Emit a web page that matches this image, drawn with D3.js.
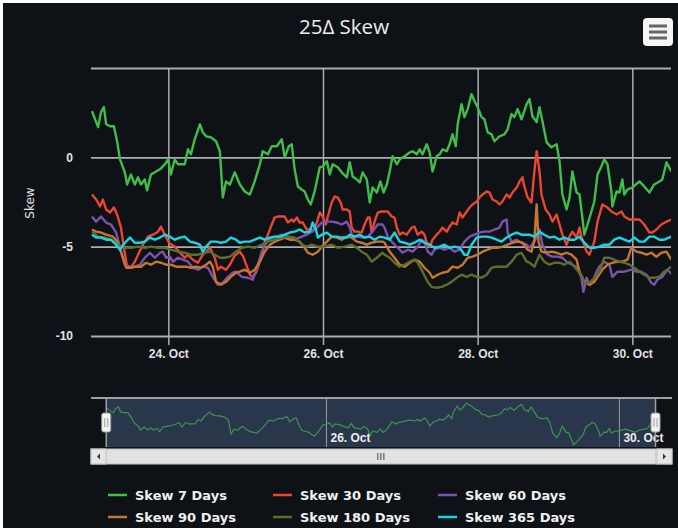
<!DOCTYPE html>
<html lang="en">

<head>
  <title>25Δ Skew</title>
  <meta charset="UTF-8">
  <style>
    body {
      margin: 0;
      background: #ffffff;
    }

    svg {
      display: block;
      font-family: "DejaVu Sans", sans-serif;
    }
  </style>
</head>

<body>
  <div id="container"></div>
  <script src="https://d3js.org/d3.v7.min.js"></script>
  <script>
    // hours after 23 Oct 00:00, skew value
    const startDate = new Date(2022, 9, 23);
    const endHour = 180;

    const sk7 = [[0.3,2.58],[2.2,1.69],[3.1,2.53],[4.0,2.81],[4.7,1.85],[5.9,1.74],[7.1,1.74],[8.1,0.9],[9.0,-0.11],[10.5,-0.84],[11.2,-1.52],[12.4,-0.96],[13.6,-1.52],[14.6,-1.12],[15.5,-1.52],[16.7,-1.24],[17.4,-1.85],[18.6,-0.96],[19.8,-0.84],[21.4,-0.67],[22.9,-0.39],[23.9,-0.11],[24.8,-0.96],[26.0,-0.11],[27.0,-0.39],[29.1,-0.39],[30.1,0.45],[31.0,0.17],[32.2,1.01],[33.8,1.85],[34.7,1.4],[35.7,1.18],[37.2,1.12],[38.8,0.9],[40.0,0.34],[40.9,-2.25],[41.9,-1.35],[43.1,-1.52],[44.6,-0.84],[46.2,-1.52],[47.7,-1.91],[49.3,-2.08],[50.8,-1.35],[52.4,-0.39],[53.3,0.34],[54.9,0.17],[56.1,0.62],[57.7,0.62],[59.2,1.01],[60.1,0],[61.4,0.62],[62.3,0.73],[63.2,-0.67],[64.2,-1.63],[65.4,-1.8],[66.3,-1.91],[67.3,-2.36],[68.2,-2.64],[69.4,-1.91],[71.0,-0.56],[71.9,-0.51],[73.2,-0.22],[74.1,-0.96],[75.0,-0.39],[76.6,-0.56],[77.8,-0.84],[79.4,-1.12],[80.3,-0.28],[81.2,-1.07],[82.5,-1.24],[83.4,-1.4],[84.3,-0.84],[85.6,-1.24],[86.5,-2.53],[87.4,-1.69],[88.7,-1.97],[89.8,-1.35],[90.8,-1.97],[91.8,-1.52],[92.7,-0.79],[93.6,0.06],[94.9,-0.39],[95.8,-0.11],[97.3,0.06],[98.9,0.28],[99.8,0.34],[101.1,0.17],[102.0,0.45],[102.9,0.17],[104.2,0.73],[105.1,0.28],[106.0,-0.79],[107.3,0.06],[108.2,0.17],[109.1,0.45],[110.4,0.34],[111.3,0.73],[112.2,1.29],[113.2,0.62],[113.8,1.85],[115.0,2.98],[115.9,2.25],[116.9,2.7],[118.1,3.54],[119.0,3.15],[120.0,2.81],[121.2,2.25],[122.1,2.13],[123.1,1.4],[124.3,1.29],[125.2,0.9],[126.8,1.18],[128.3,1.29],[129.3,1.57],[130.5,2.42],[131.4,2.25],[132.4,2.7],[133.6,2.13],[135.2,2.98],[136.1,3.26],[137.0,2.3],[138.3,1.97],[139.2,2.81],[140.1,2.02],[141.4,0.84],[142.9,0.56],[144.5,0.73],[145.4,-0.22],[146.3,-2.08],[147.6,-2.92],[148.5,-2.25],[149.4,-0.79],[150.7,-1.97],[151.6,-2.08],[152.5,-3.37],[153.1,-4.33],[154.1,-3.76],[155.3,-3.03],[156.2,-2.47],[157.2,-0.96],[158.4,-0.51],[159.3,-0.11],[160.3,-0.39],[161.5,-1.91],[161.8,-2.75],[163.1,-1.91],[164.0,-1.97],[164.9,-1.24],[165.5,-2.08],[166.5,-1.8],[168.0,-1.69],[170.2,-1.35],[171.7,-1.63],[173.3,-1.97],[174.8,-1.52],[176.4,-1.35],[177.3,-1.24],[178.6,-0.28],[180.1,-0.79]];

    const sk30 = [[0.3,-2.08],[1.6,-2.36],[2.8,-2.75],[3.7,-2.36],[4.7,-2.92],[5.9,-3.09],[7.1,-2.81],[8.1,-3.2],[9.3,-3.93],[10.2,-5.06],[11.2,-6.12],[12.4,-6.18],[13.6,-5.84],[14.6,-5.45],[16.1,-4.89],[17.7,-4.44],[19.2,-4.33],[20.8,-4.16],[21.7,-3.88],[22.9,-4.33],[24.2,-4.78],[25.1,-4.89],[26.0,-5.0],[27.6,-5.34],[29.1,-5.62],[30.1,-5.45],[31.6,-5.73],[33.2,-5.9],[34.7,-5.45],[36.9,-5.06],[38.4,-5.62],[39.4,-6.29],[40.3,-6.12],[41.9,-6.29],[43.1,-6.01],[44.6,-5.5],[46.2,-5.28],[47.1,-5.5],[48.4,-6.12],[49.3,-6.57],[50.2,-6.69],[51.2,-6.46],[52.1,-6.01],[53.0,-5.45],[53.9,-4.72],[54.9,-4.33],[56.1,-3.76],[57.0,-3.37],[58.0,-3.31],[59.2,-3.31],[60.1,-3.31],[61.1,-3.65],[62.3,-3.48],[62.9,-3.6],[63.9,-3.37],[64.8,-3.65],[65.7,-3.65],[67.0,-4.04],[67.9,-4.04],[68.8,-4.16],[70.1,-3.65],[71.0,-3.09],[71.9,-3.31],[72.9,-3.76],[73.5,-3.31],[74.7,-2.53],[75.6,-2.19],[76.6,-2.25],[77.5,-2.53],[78.1,-2.92],[79.4,-2.92],[80.3,-3.03],[80.9,-3.93],[81.8,-4.16],[82.8,-4.16],[84.0,-4.21],[84.9,-3.76],[85.9,-3.37],[86.5,-3.37],[87.1,-4.21],[88.0,-3.6],[89.0,-3.09],[90.2,-3.03],[92.1,-3.03],[93.3,-3.31],[94.2,-3.37],[94.9,-3.93],[95.8,-4.33],[96.7,-4.21],[98.0,-4.33],[99.5,-3.93],[100.4,-3.88],[101.4,-4.33],[102.6,-4.16],[103.5,-4.33],[104.2,-4.78],[105.1,-5.0],[106.0,-4.61],[107.3,-4.33],[108.2,-4.16],[109.1,-3.93],[110.4,-4.16],[111.3,-3.88],[112.2,-3.65],[113.5,-3.76],[114.4,-3.09],[115.3,-3.37],[116.6,-3.03],[117.5,-2.81],[118.4,-2.64],[119.7,-2.47],[120.6,-2.25],[121.5,-2.08],[122.8,-1.91],[123.7,-1.97],[124.6,-2.36],[125.9,-2.47],[126.8,-2.64],[127.7,-2.47],[129.0,-2.08],[129.9,-2.25],[130.8,-1.97],[132.1,-1.69],[133.0,-1.35],[133.9,-1.12],[134.5,-1.63],[135.5,-2.25],[136.7,-2.53],[137.6,-0.79],[138.3,0.34],[139.2,-0.79],[139.8,-2.08],[141.1,-2.92],[142.3,-3.2],[143.2,-3.6],[144.5,-3.2],[145.4,-3.76],[146.3,-4.33],[147.6,-4.89],[148.5,-4.44],[149.4,-4.16],[150.7,-4.49],[151.6,-3.93],[152.2,-4.44],[153.8,-5.28],[154.7,-5.45],[156.2,-4.72],[157.2,-3.6],[158.7,-2.64],[160.3,-2.81],[161.5,-3.03],[163.1,-3.2],[164.6,-3.03],[165.5,-3.31],[167.1,-3.48],[168.6,-3.48],[170.2,-3.48],[171.7,-3.76],[173.3,-4.21],[174.2,-4.21],[175.5,-4.04],[177.0,-3.76],[178.6,-3.6],[180.1,-3.48]];

    const sk60 = [[0.3,-3.31],[1.6,-3.6],[3.1,-3.31],[4.7,-3.65],[6.2,-3.76],[7.8,-4.21],[9.3,-5.28],[10.5,-6.01],[12.1,-6.12],[13.6,-6.12],[15.2,-6.01],[16.7,-5.62],[18.3,-5.34],[19.8,-5.62],[21.4,-5.34],[22.3,-5.28],[23.3,-5.62],[24.5,-5.56],[25.4,-5.84],[27.0,-5.62],[28.5,-5.73],[30.1,-5.84],[31.6,-6.18],[33.2,-6.29],[34.7,-6.12],[36.3,-6.18],[37.8,-6.69],[39.4,-7.13],[40.9,-7.02],[42.5,-6.69],[44.0,-6.46],[45.0,-6.4],[46.8,-6.69],[48.7,-6.74],[50.2,-6.85],[51.8,-6.01],[53.0,-5.28],[54.6,-4.72],[56.1,-4.49],[57.7,-4.44],[59.2,-4.33],[61.1,-4.44],[63.2,-4.61],[65.4,-4.44],[67.0,-4.33],[68.5,-4.16],[70.1,-3.93],[71.6,-3.65],[73.2,-3.6],[74.7,-3.6],[76.3,-3.65],[77.8,-3.76],[79.4,-3.6],[80.3,-3.93],[81.2,-4.49],[82.8,-4.44],[84.3,-4.49],[85.9,-4.44],[87.4,-4.16],[89.0,-3.76],[90.5,-3.76],[91.1,-3.93],[92.1,-4.44],[93.6,-4.78],[95.2,-5.06],[96.7,-5.34],[98.3,-5.17],[99.8,-5.28],[101.4,-5.0],[102.6,-4.61],[103.5,-4.72],[104.5,-5.28],[105.7,-5.45],[106.6,-5.17],[108.2,-5.06],[109.7,-5.17],[111.3,-5.06],[112.8,-5.28],[114.4,-5.17],[115.9,-4.72],[117.5,-4.44],[119.0,-4.33],[120.6,-4.21],[122.1,-4.16],[123.7,-4.16],[125.2,-4.04],[126.8,-3.93],[127.7,-3.6],[129.0,-3.48],[129.3,-4.21],[130.5,-4.72],[132.1,-4.61],[133.6,-4.78],[135.2,-4.89],[136.1,-5.06],[137.6,-4.72],[139.2,-4.04],[140.1,-4.89],[141.7,-5.45],[143.2,-5.56],[144.8,-5.56],[146.3,-5.62],[147.9,-5.9],[149.4,-6.01],[151.0,-6.18],[152.2,-6.74],[152.8,-7.53],[153.8,-6.74],[154.7,-7.13],[155.6,-6.97],[156.9,-6.4],[157.8,-6.12],[159.3,-5.84],[160.9,-6.01],[161.8,-6.69],[163.4,-6.4],[165.5,-6.4],[167.7,-6.29],[169.3,-6.4],[170.8,-6.4],[172.4,-6.57],[173.9,-7.02],[174.8,-7.13],[175.8,-6.85],[177.3,-6.69],[178.9,-6.29],[180.4,-6.57]];

    const sk90 = [[0.3,-4.04],[1.6,-4.16],[3.1,-4.21],[4.7,-4.33],[6.8,-4.44],[8.4,-4.78],[9.9,-5.62],[10.9,-6.18],[12.4,-6.18],[14.0,-6.12],[15.5,-6.12],[17.1,-5.9],[18.6,-6.01],[20.2,-5.84],[21.7,-5.9],[23.3,-6.01],[24.8,-6.01],[26.4,-6.12],[27.9,-6.12],[29.5,-6.12],[31.0,-6.18],[32.6,-6.12],[34.1,-6.18],[35.7,-6.01],[36.9,-5.84],[37.8,-6.12],[38.8,-6.97],[40.3,-7.13],[41.9,-6.97],[43.4,-6.69],[45.0,-6.46],[46.2,-6.4],[47.7,-6.29],[49.3,-6.46],[50.8,-6.29],[52.4,-5.84],[53.9,-5.28],[55.5,-4.89],[57.0,-4.72],[58.6,-4.61],[60.1,-4.49],[61.7,-4.61],[63.2,-4.61],[64.8,-4.72],[66.3,-5.06],[67.3,-5.34],[68.8,-5.45],[70.4,-5.28],[71.6,-5.0],[73.2,-4.72],[74.7,-4.44],[76.3,-4.49],[77.8,-4.61],[79.4,-4.44],[80.9,-4.49],[82.5,-4.72],[84.0,-4.78],[85.6,-4.89],[87.1,-4.78],[88.7,-4.72],[90.5,-4.72],[91.1,-4.78],[92.7,-5.28],[94.2,-5.62],[95.8,-6.01],[97.3,-6.12],[98.9,-5.9],[100.4,-5.73],[102.0,-5.84],[103.5,-6.18],[105.1,-6.46],[106.0,-6.74],[107.6,-6.57],[109.1,-6.46],[110.7,-6.4],[112.2,-6.12],[113.8,-6.18],[115.3,-6.01],[116.9,-5.62],[118.4,-5.56],[120.0,-5.45],[121.5,-5.28],[123.1,-5.17],[124.6,-5.06],[126.2,-5.06],[127.7,-5.0],[129.3,-4.89],[130.8,-4.78],[132.4,-4.72],[133.9,-4.78],[135.5,-5.17],[136.7,-5.28],[137.6,-4.61],[138.3,-2.64],[138.9,-4.72],[139.8,-5.28],[141.4,-5.34],[142.9,-5.28],[144.5,-5.34],[146.0,-5.45],[147.6,-5.34],[149.1,-5.45],[150.7,-5.73],[151.6,-6.4],[153.1,-6.97],[154.7,-7.13],[156.2,-6.97],[157.2,-6.69],[158.7,-6.29],[160.3,-6.01],[161.8,-5.9],[163.4,-5.84],[164.9,-5.84],[166.5,-5.73],[167.7,-5.06],[169.3,-5.28],[170.8,-5.34],[172.4,-5.45],[173.9,-5.34],[175.5,-5.56],[177.0,-5.34],[178.6,-5.28],[180.1,-5.73]];

    const sk180 = [[0.3,-4.16],[2.2,-4.44],[4.3,-4.49],[6.2,-4.61],[8.4,-4.89],[10.5,-5.06],[12.4,-5.06],[14.6,-5.0],[16.7,-5.06],[18.6,-5.0],[20.8,-5.06],[22.9,-5.06],[24.8,-5.17],[27.0,-5.28],[29.1,-5.34],[31.0,-5.45],[33.2,-5.45],[35.3,-5.34],[36.9,-5.28],[38.4,-5.45],[40.0,-5.62],[41.5,-5.62],[43.1,-5.56],[45.0,-5.28],[46.8,-5.06],[48.7,-5.0],[50.8,-5.06],[53.0,-4.89],[54.9,-4.72],[57.0,-4.61],[59.2,-4.49],[61.1,-4.44],[63.2,-4.49],[65.4,-4.89],[67.0,-5.0],[68.5,-4.89],[70.4,-5.0],[72.5,-5.0],[74.7,-4.89],[76.6,-5.06],[78.7,-5.0],[80.9,-4.89],[82.5,-5.06],[84.0,-5.28],[85.6,-5.45],[87.1,-5.84],[88.7,-5.62],[90.5,-5.34],[91.1,-5.45],[92.7,-5.62],[94.2,-5.9],[95.8,-6.12],[97.3,-6.01],[98.9,-5.84],[100.4,-5.73],[101.4,-5.9],[102.9,-6.4],[104.5,-6.97],[105.7,-7.25],[107.3,-7.3],[108.8,-7.25],[110.4,-7.13],[111.9,-6.97],[113.5,-6.74],[115.0,-6.57],[116.6,-6.69],[118.1,-6.57],[119.7,-6.69],[121.2,-6.74],[122.8,-6.57],[124.3,-6.18],[125.9,-6.12],[127.4,-6.12],[129.0,-6.12],[130.5,-5.84],[132.1,-5.45],[133.6,-5.34],[135.2,-5.84],[136.1,-5.9],[137.6,-6.12],[139.2,-5.45],[140.7,-5.84],[142.3,-6.01],[143.8,-5.9],[145.4,-5.9],[146.9,-6.01],[148.5,-5.84],[150.0,-6.12],[151.6,-6.46],[153.1,-7.02],[154.7,-7.02],[156.2,-6.74],[157.8,-6.4],[159.3,-5.62],[160.9,-5.62],[162.4,-5.73],[164.0,-5.84],[165.5,-5.9],[167.1,-6.01],[168.6,-6.18],[170.2,-6.4],[171.7,-6.57],[173.3,-6.74],[174.8,-6.74],[176.4,-6.69],[177.9,-6.4],[180.1,-6.12]];

    const sk365 = [[0.3,-4.33],[1.6,-4.49],[3.1,-4.49],[4.7,-4.61],[6.2,-4.61],[7.8,-4.89],[9.0,-5.17],[10.5,-4.78],[12.1,-4.49],[13.6,-4.78],[15.2,-4.78],[16.7,-4.72],[18.3,-4.49],[19.8,-4.61],[21.4,-4.49],[22.9,-4.33],[24.5,-4.44],[26.0,-4.61],[27.6,-4.49],[29.1,-4.44],[30.7,-4.72],[32.2,-4.78],[33.8,-4.89],[34.7,-5.28],[35.7,-5.0],[37.2,-4.72],[38.8,-4.72],[40.3,-4.78],[41.9,-4.72],[43.4,-4.49],[45.0,-4.61],[46.2,-4.78],[47.7,-4.72],[49.3,-4.72],[50.8,-4.61],[52.4,-4.49],[53.9,-4.61],[55.5,-4.49],[57.0,-4.44],[58.6,-4.44],[60.1,-4.33],[61.7,-4.21],[63.2,-4.16],[64.8,-4.04],[66.3,-4.21],[67.9,-4.16],[68.8,-3.65],[69.8,-4.04],[70.4,-4.49],[71.6,-4.33],[73.2,-4.21],[74.7,-4.44],[76.3,-4.44],[77.8,-4.49],[79.4,-4.49],[80.3,-4.33],[81.8,-4.44],[83.4,-4.33],[84.9,-4.49],[86.5,-4.44],[88.0,-4.61],[89.6,-4.44],[91.1,-4.49],[92.7,-4.61],[94.2,-4.21],[95.8,-4.72],[97.3,-4.78],[98.9,-4.89],[100.4,-4.78],[102.0,-4.61],[103.5,-4.78],[105.1,-4.89],[106.6,-5.06],[108.2,-5.0],[109.7,-4.89],[111.3,-5.06],[112.8,-5.0],[114.4,-5.06],[115.9,-5.45],[116.9,-5.45],[118.1,-4.89],[119.7,-4.49],[121.2,-4.44],[122.8,-4.44],[124.3,-4.49],[125.9,-4.61],[127.4,-4.72],[129.0,-4.49],[130.5,-4.33],[132.1,-4.21],[133.6,-4.33],[135.2,-4.33],[136.1,-4.33],[137.6,-4.44],[139.2,-4.16],[140.7,-4.33],[142.3,-4.49],[143.8,-4.44],[145.4,-4.61],[146.9,-4.49],[148.5,-4.61],[150.0,-4.61],[151.6,-4.44],[153.1,-4.78],[154.7,-5.06],[156.2,-5.06],[157.8,-5.0],[159.3,-4.89],[160.9,-4.89],[162.4,-4.61],[164.0,-4.49],[165.5,-4.61],[167.1,-4.72],[168.6,-4.49],[170.2,-4.72],[171.7,-4.72],[173.3,-4.44],[174.8,-4.44],[176.4,-4.61],[177.9,-4.61],[180.1,-4.44]];

    const seriesNames = ['Skew 7 Days', 'Skew 30 Days', 'Skew 60 Days', 'Skew 90 Days', 'Skew 180 Days', 'Skew 365 Days'];
    const seriesValues = [sk7, sk30, sk60, sk90, sk180, sk365];
    const seriesColors = ['#3fbe4c', '#ec4532', '#7b52ad', '#c8762f', '#5c6e2c', '#19d6e4'];

    const yTicks = [-10, -5, 0, 5];
    const yLabelHidden = [5];
    const xTickDays = [24, 26, 28, 30];
    const navTickDays = [26, 30];

    const W = 678, H = 528;
    const plot = { left: 91, right: 671, top: 68, bottom: 336 };
    const nav = { left: 91, right: 672, top: 398, bottom: 447 };
    const textColor = '#e2e2e2';
    const gridColor = '#adadad';

    const hoursToDate = h => new Date(+startDate + h * 3600 * 1000);
    const dayDate = d => new Date(2022, 9, d);

    const svg = d3.select('#container')
      .append('svg')
      .attr('width', W)
      .attr('height', H);

    svg.append('rect')
      .attr('x', 3).attr('y', 3)
      .attr('width', W - 3).attr('height', H - 3)
      .attr('fill', '#0e1116');

    // title
    svg.append('text')
      .attr('x', 344).attr('y', 34)
      .attr('text-anchor', 'middle')
      .attr('fill', '#ececec')
      .style('font-family', '"Open Sans", sans-serif')
      .style('font-size', '20.5px')
      .text('25Δ Skew');

    // export menu button
    const menu = svg.append('g').attr('transform', 'translate(643,18)');
    menu.append('rect')
      .attr('width', 30).attr('height', 28).attr('rx', 4)
      .attr('fill', '#f6f6f6');
    [8, 14, 20].forEach(function (yy) {
      menu.append('line')
        .attr('x1', 6).attr('x2', 24).attr('y1', yy).attr('y2', yy)
        .attr('stroke', '#666').attr('stroke-width', 3);
    });

    const x = d3.scaleTime()
      .domain([hoursToDate(0), hoursToDate(endHour)])
      .range([plot.left, plot.right]);
    const y = d3.scaleLinear()
      .domain([-10, 5])
      .range([plot.bottom, plot.top]);

    // y axis + horizontal grid
    const yAxis = svg.append('g')
      .attr('transform', 'translate(' + plot.left + ',0)')
      .call(d3.axisLeft(y)
        .tickValues(yTicks)
        .tickSize(-(plot.right - plot.left))
        .tickPadding(18)
        .tickFormat(d => yLabelHidden.includes(d) ? '' : String(d)));
    yAxis.select('.domain').remove();
    yAxis.selectAll('line').attr('stroke', gridColor).attr('stroke-width', 1.8);
    yAxis.selectAll('text')
      .attr('fill', textColor)
      .style('font-size', '12px')
      .style('font-weight', 'bold');

    // x axis + vertical grid
    const xAxis = svg.append('g')
      .attr('transform', 'translate(0,' + (plot.bottom + 9) + ')')
      .call(d3.axisBottom(x)
        .tickValues(xTickDays.map(dayDate))
        .tickSize(-(plot.bottom + 9 - plot.top))
        .tickPadding(4)
        .tickFormat(d3.timeFormat('%d. %b')));
    xAxis.select('.domain').remove();
    xAxis.selectAll('line').attr('stroke', gridColor).attr('stroke-width', 1.5);
    xAxis.selectAll('text')
      .attr('fill', textColor)
      .style('font-size', '12px')
      .style('font-weight', 'bold');

    // y axis title
    svg.append('text')
      .attr('transform', 'translate(34,203) rotate(-90)')
      .attr('text-anchor', 'middle')
      .attr('fill', textColor)
      .style('font-size', '12px')
      .text('Skew');

    svg.append('clipPath').attr('id', 'plotClip')
      .append('rect')
      .attr('x', plot.left).attr('y', plot.top - 5)
      .attr('width', plot.right - plot.left).attr('height', plot.bottom - plot.top + 10);

    const line = d3.line()
      .x(d => x(hoursToDate(d[0])))
      .y(d => y(d[1]));

    svg.append('g')
      .attr('clip-path', 'url(#plotClip)')
      .selectAll('path')
      .data(seriesValues)
      .join('path')
      .attr('d', line)
      .attr('fill', 'none')
      .attr('stroke', (d, i) => seriesColors[i])
      .attr('stroke-width', 2.4)
      .attr('stroke-linejoin', 'round');

    // navigator
    const xNav = d3.scaleTime()
      .domain([hoursToDate(-5), hoursToDate(endHour + 5.4)])
      .range([nav.left, nav.right]);
    const yNav = d3.scaleLinear()
      .domain(d3.extent(sk7, d => d[1]))
      .range([nav.bottom - 2, nav.top + 5]);

    const selL = xNav(hoursToDate(0));
    const selR = xNav(hoursToDate(endHour));

    svg.append('rect')
      .attr('x', selL).attr('y', nav.top)
      .attr('width', selR - selL).attr('height', nav.bottom - nav.top)
      .attr('fill', 'rgba(102,133,194,0.32)');

    const navAxis = svg.append('g')
      .attr('transform', 'translate(0,' + nav.bottom + ')')
      .call(d3.axisBottom(xNav)
        .tickValues(navTickDays.map(dayDate))
        .tickSize(-(nav.bottom - nav.top))
        .tickFormat(d3.timeFormat('%d. %b')));
    navAxis.select('.domain').remove();
    navAxis.selectAll('line').attr('stroke', '#9c9c9c').attr('stroke-width', 1);
    navAxis.selectAll('text')
      .attr('fill', '#eeeeee')
      .attr('text-anchor', 'start')
      .attr('x', 4).attr('y', -5).attr('dy', 0)
      .style('font-size', '12px')
      .style('font-weight', 'bold');

    svg.append('path')
      .datum(sk7)
      .attr('d', d3.line().x(d => xNav(hoursToDate(d[0]))).y(d => yNav(d[1])))
      .attr('fill', 'none')
      .attr('stroke', '#3c9450')
      .attr('stroke-width', 1.2);

    svg.append('line')
      .attr('x1', nav.left).attr('x2', nav.right)
      .attr('y1', nav.top).attr('y2', nav.top)
      .attr('stroke', '#a0a0a0').attr('stroke-width', 2);

    [selL, selR].forEach(function (hx) {
      svg.append('line')
        .attr('x1', hx).attr('x2', hx)
        .attr('y1', nav.top).attr('y2', nav.bottom)
        .attr('stroke', '#a0a0a0').attr('stroke-width', 1.5);
      const g = svg.append('g').attr('transform', 'translate(' + hx + ',0)');
      g.append('rect')
        .attr('x', -4.5).attr('y', 413).attr('width', 9).attr('height', 19).attr('rx', 2)
        .attr('fill', '#f4f4f4').attr('stroke', '#9a9a9a');
      [-1.5, 1.5].forEach(function (dx) {
        g.append('line')
          .attr('x1', dx).attr('x2', dx).attr('y1', 418).attr('y2', 427)
          .attr('stroke', '#999');
      });
    });

    // scrollbar
    const sb = { top: 449, h: 15 };
    svg.append('rect')
      .attr('x', nav.left).attr('y', sb.top)
      .attr('width', nav.right - nav.left).attr('height', sb.h)
      .attr('fill', '#dcdcdc').attr('stroke', '#c4c4c4');
    svg.append('rect')
      .attr('x', selL).attr('y', sb.top + 0.5)
      .attr('width', selR - selL).attr('height', sb.h - 1)
      .attr('fill', '#e2e2e2').attr('stroke', '#cfcfcf');
    [-3, 0, 3].forEach(function (dx) {
      const cx = (selL + selR) / 2 + dx;
      svg.append('line')
        .attr('x1', cx).attr('x2', cx).attr('y1', sb.top + 4).attr('y2', sb.top + sb.h - 4)
        .attr('stroke', '#444');
    });
    // arrow buttons
    [[nav.left, -1], [nav.right - 15, 1]].forEach(function (b) {
      svg.append('rect')
        .attr('x', b[0]).attr('y', sb.top)
        .attr('width', 15).attr('height', sb.h)
        .attr('fill', '#e6e6e6').attr('stroke', '#c4c4c4');
      const cx = b[0] + 7.5, cy = sb.top + sb.h / 2;
      svg.append('path')
        .attr('d', b[1] < 0
          ? 'M' + (cx + 1.5) + ',' + (cy - 3) + 'L' + (cx - 1.5) + ',' + cy + 'L' + (cx + 1.5) + ',' + (cy + 3) + 'Z'
          : 'M' + (cx - 1.5) + ',' + (cy - 3) + 'L' + (cx + 1.5) + ',' + cy + 'L' + (cx - 1.5) + ',' + (cy + 3) + 'Z')
        .attr('fill', '#333');
    });

    // legend
    const legendCols = [108, 273, 438];
    const legendRows = [495, 517];
    const legend = svg.append('g')
      .selectAll('g')
      .data(seriesNames)
      .join('g')
      .attr('transform', (d, i) => 'translate(' + legendCols[i % 3] + ',' + legendRows[Math.floor(i / 3)] + ')');
    legend.append('line')
      .attr('x1', 0).attr('x2', 19)
      .attr('stroke', (d, i) => seriesColors[i])
      .attr('stroke-width', 2.5);
    legend.append('text')
      .attr('x', 27).attr('y', 5)
      .attr('fill', '#f0f0f0')
      .style('font-size', '13px')
      .style('font-weight', 'bold')
      .text(d => d);
  </script>
</body>

</html>
